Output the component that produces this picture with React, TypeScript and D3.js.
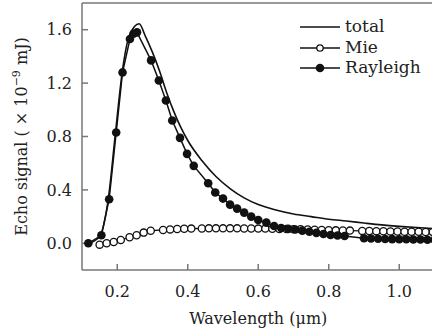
import * as d3 from 'd3';

// wavelength (µm) / echo signal (×10^-9 mJ)
const totalX = [0.12, 0.15, 0.175, 0.195, 0.215, 0.235, 0.262, 0.28, 0.3, 0.32, 0.34, 0.36, 0.38, 0.4, 0.44, 0.48, 0.52, 0.56, 0.6, 0.65, 0.7, 0.75, 0.8, 0.85, 0.9, 0.95, 1.0, 1.05, 1.1];
const totalY = [0.0, 0.05, 0.34, 0.83, 1.3, 1.56, 1.645, 1.55, 1.43, 1.29, 1.13, 0.99, 0.87, 0.77, 0.62, 0.5, 0.41, 0.34, 0.29, 0.25, 0.22, 0.2, 0.18, 0.167, 0.152, 0.138, 0.127, 0.118, 0.11];

const rayX = [0.118, 0.155, 0.177, 0.197, 0.215, 0.236, 0.246, 0.256, 0.296, 0.318, 0.338, 0.356, 0.378, 0.398, 0.417, 0.458, 0.478, 0.5, 0.52, 0.54, 0.56, 0.58, 0.6, 0.623, 0.645, 0.665, 0.685, 0.705, 0.725, 0.745, 0.765, 0.785, 0.805, 0.825, 0.845, 0.9, 0.92, 0.94, 0.96, 0.98, 1.0, 1.02, 1.04, 1.06, 1.08, 1.1];
const rayY = [0.0, 0.06, 0.33, 0.83, 1.28, 1.53, 1.57, 1.58, 1.37, 1.22, 1.07, 0.92, 0.79, 0.67, 0.58, 0.45, 0.38, 0.335, 0.29, 0.26, 0.23, 0.2, 0.175, 0.155, 0.13, 0.115, 0.108, 0.103, 0.095, 0.087, 0.078, 0.07, 0.062, 0.058, 0.055, 0.038, 0.036, 0.034, 0.032, 0.031, 0.03, 0.03, 0.029, 0.028, 0.027, 0.026];

const mieX = [0.15, 0.17, 0.19, 0.21, 0.235, 0.255, 0.275, 0.295, 0.33, 0.35, 0.37, 0.39, 0.41, 0.44, 0.46, 0.48, 0.5, 0.52, 0.54, 0.56, 0.58, 0.6, 0.62, 0.64, 0.66, 0.68, 0.7, 0.72, 0.74, 0.76, 0.78, 0.8, 0.82, 0.84, 0.86, 0.895, 0.915, 0.935, 0.955, 0.975, 0.995, 1.015, 1.035, 1.055, 1.075, 1.095];
const mieY = [-0.01, 0.0, 0.01, 0.025, 0.045, 0.06, 0.08, 0.094, 0.1, 0.104, 0.107, 0.109, 0.11, 0.111, 0.112, 0.112, 0.112, 0.112, 0.112, 0.111, 0.111, 0.11, 0.11, 0.109, 0.108, 0.107, 0.106, 0.105, 0.103, 0.101, 0.1, 0.098, 0.097, 0.096, 0.095, 0.093, 0.092, 0.091, 0.09, 0.089, 0.088, 0.087, 0.086, 0.086, 0.085, 0.085];

const xTicks = [0.2, 0.4, 0.6, 0.8, 1.0];
const yTicks = [0.0, 0.4, 0.8, 1.2, 1.6];

const W = 432;
const H = 335;
const margin = { top: 3, left: 82, bottom: 65 };
const FONT = 'DejaVu Serif';

export default function App() {
  const x = d3.scaleLinear().domain([0.1, 1.1]).range([margin.left, margin.left + 352.5]);
  const y = d3.scaleLinear().domain([-0.2, 1.8]).range([H - margin.bottom, margin.top]);
  const x0 = margin.left;
  const yb = H - margin.bottom;

  const line = d3.line<[number, number]>()
    .x((d) => x(d[0]))
    .y((d) => y(d[1]));
  const smooth = d3.line<[number, number]>()
    .x((d) => x(d[0]))
    .y((d) => y(d[1]))
    .curve(d3.curveMonotoneX);

  const total = totalX.map((v, i) => [v, totalY[i]] as [number, number]);
  const ray = rayX.map((v, i) => [v, rayY[i]] as [number, number]);
  const mie = mieX.map((v, i) => [v, mieY[i]] as [number, number]);

  return (
    <svg width={W} height={H} style={{ position: 'absolute', left: 0, top: 0, background: '#fff' }}>
      <defs>
        <clipPath id="plot">
          <rect x={x0} y={margin.top} width={W - x0} height={yb - margin.top} />
        </clipPath>
      </defs>

      {/* frame */}
      <line x1={x0} x2={W} y1={margin.top} y2={margin.top} stroke="#777" strokeWidth={1.5} />
      <line x1={x0} x2={W} y1={yb} y2={yb} stroke="#777" strokeWidth={1.5} />
      <line x1={x0} x2={x0} y1={margin.top} y2={yb} stroke="#777" strokeWidth={1.5} />

      {xTicks.map((t) => (
        <g key={t}>
          <line x1={x(t)} x2={x(t)} y1={yb} y2={yb - 6} stroke="#777" strokeWidth={1.5} />
          <text x={x(t)} y={yb + 27} textAnchor="middle" fontFamily={FONT} fontSize={16} fill="#222">
            {t.toFixed(1)}
          </text>
        </g>
      ))}
      {yTicks.map((t) => (
        <g key={t}>
          <line x1={x0} x2={x0 + 6} y1={y(t)} y2={y(t)} stroke="#777" strokeWidth={1.5} />
          <text x={x0 - 10} y={y(t)} dy="0.36em" textAnchor="end" fontFamily={FONT} fontSize={16} fill="#222">
            {t.toFixed(1)}
          </text>
        </g>
      ))}

      <g clipPath="url(#plot)">
        <path d={line(mie) ?? ''} fill="none" stroke="#111" strokeWidth={1.3} />
        {mie.map((d, i) => (
          <circle key={`m${i}`} cx={x(d[0])} cy={y(d[1])} r={3.6} fill="#fff" stroke="#111" strokeWidth={1.3} />
        ))}
        <path d={line(ray) ?? ''} fill="none" stroke="#111" strokeWidth={1.5} />
        {ray.map((d, i) => (
          <circle key={`r${i}`} cx={x(d[0])} cy={y(d[1])} r={4.3} fill="#111" />
        ))}
        <path d={smooth(total) ?? ''} fill="none" stroke="#111" strokeWidth={1.6} />
      </g>

      {/* legend */}
      <g fontFamily={FONT} fontSize={17} fill="#222">
        <line x1={300} x2={340} y1={27} y2={27} stroke="#111" strokeWidth={1.6} />
        <text x={345} y={27} dy="0.32em">total</text>
        <line x1={300} x2={340} y1={48} y2={48} stroke="#111" strokeWidth={1.3} />
        <circle cx={320} cy={48} r={3.2} fill="#fff" stroke="#111" strokeWidth={1.3} />
        <text x={345} y={48} dy="0.32em">Mie</text>
        <line x1={300} x2={340} y1={68} y2={68} stroke="#111" strokeWidth={1.5} />
        <circle cx={320} cy={68} r={4.3} fill="#111" />
        <text x={345} y={68} dy="0.32em">Rayleigh</text>
      </g>

      <text x={x(0.6)} y={324} textAnchor="middle" fontFamily={FONT} fontSize={16} fill="#222">
        Wavelength (μm)
      </text>
      <text transform={`translate(27,${y(0.8)}) rotate(-90)`} textAnchor="middle" fontFamily={FONT} fontSize={16} fill="#222">
        Echo signal ( × 10<tspan fontSize={11} dy={-7}>−9</tspan><tspan dy={7}> mJ)</tspan>
      </text>
    </svg>
  );
}
